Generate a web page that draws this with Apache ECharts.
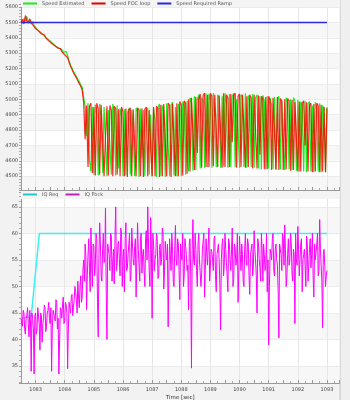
<!DOCTYPE html>
<html><head><meta charset="utf-8">
<script src="https://cdn.jsdelivr.net/npm/echarts@6/dist/echarts.min.js"></script>
<style>html,body{margin:0;padding:0;background:#efefef;}#c{width:350px;height:400px;}</style>
</head><body><div id="c"></div>
<script>
// sample grid (uniform logging): t = timeStart + i*timeStep
const timeStart = 1082.5;
const timeStep = 0.05;

const speedEstimated = [5510,5495,5525,5505,5540,5500,5515,5490,5505,5480,
5470,5455,5462,5440,5432,5425,5410,5418,5395,5388,5380,5372,5360,5366,5345,5340,5332,5320,5325,5305,5300,5312,
5282,5250,5222,5205,5180,5168,5150,5130,5115,5095,5080,5010,
4960,4760,4975,4600,4530,4950,4510,4965,4900,4505,4970,4880,4520,4950,4960,4500,4930,4700,4510,4970,4920,4505,4960,4550,4940,4890,
4500,4935,4505,4910,4940,4510,4930,4800,4500,4945,4920,4495,4940,4620,4930,4500,4925,4945,4510,4900,4500,4940,4860,4495,4950,
4970,4500,4960,4920,4495,4975,4700,4500,4965,4980,4505,4950,4500,4970,4930,4500,4985,4960,4510,4990,4530,5010,4980,4535,5020,
4540,5000,5030,4550,5010,4990,4555,5040,4560,5035,5000,4555,5040,4900,4560,5030,5010,4555,5020,4565,5040,4980,4555,5035,4560,
5020,5040,4560,5000,4800,4555,5030,5015,4560,5040,4555,5025,4990,4560,5035,4555,5010,5030,4550,5020,4545,5025,4990,4545,5020,
4550,5010,4960,4545,5015,4540,5000,5020,4545,4990,4700,4540,5010,4980,4545,5000,4540,5010,4990,4535,4995,4530,4985,4960,4530,
4990,4525,4970,4985,4530,4960,4525,4980,4950,4530,4975,4525,4960,4940,4530,4950];

const speedFocLoop = [5500,5520,5490,5545,5510,5495,5525,5500,5485,5495,
5460,5465,5445,5450,5425,5418,5420,5400,5402,5380,5385,5365,5370,5350,5352,5335,5325,5330,5310,5312,5290,5295,
5270,5260,5215,5210,5172,5160,5140,5120,5110,5085,5060,4980,
4740,4960,4560,4955,4975,4520,4950,4505,4975,4940,4510,4965,4960,4500,4760,4955,4505,4960,4930,4500,4955,4940,4510,4935,4500,4950,
4920,4500,4940,4495,4930,4945,4500,4935,4925,4500,4945,4930,4500,4940,4495,4935,4950,4500,4930,4680,4500,4950,4500,4955,4940,
4495,4965,4500,4970,4960,4500,4975,4960,4495,4970,4980,4500,4975,4500,4985,4965,4505,4990,4975,4515,5000,4530,5010,5020,4540,
5015,4650,5000,5035,4555,5025,5040,4560,5030,4560,5040,5020,4565,5030,5040,4560,5025,5035,4555,5040,4560,5030,5010,4560,5035,
4720,5025,5040,4555,5020,5035,4560,5030,5040,4555,5020,4560,5030,5010,4550,5030,5020,4550,5025,4640,5020,5000,4545,5015,4545,
5020,4990,4540,5010,5000,4545,5015,4540,5005,4990,4540,5000,4545,5005,4990,4535,4995,4540,4980,4990,4530,4985,4530,4975,4990,
4700,4980,4530,4960,4975,4525,4970,4530,4975,4960,4525,4965,4530,4950,4525,4940];

const rampTime = [1082.5, 1093.0];
const speedRequiredRamp = [5500, 5500];

const iqReqTime = [1082.5, 1082.85, 1083.13, 1093.0];
const iqReq = [44, 44.3, 60, 60];

// IQ feedback, samples on the 0.05 s grid
const iqFbck = [44,42.5,45,41,44.5,43,45.5,34,44,33.5,45,42,46,38,44.5,43,46.5,41.5,45,47,
43,34,45.5,44,47.5,42,33.5,46,44,48,43.5,46.5,34.5,47,45,48.5,46,50,47.5,51,
46,52,48,55,58,45.6,56,53,61,50,57.5,54,59,40.5,62,52,57,54.5,64.8,40,
58,53,59.5,55,50.5,65,54,58.5,52,60,55.5,49,62,53.5,58,51,61,55,57.5,48,
62,54,59,52.5,57,50,60.5,65,53,63,44,58,55,60,51.5,57,54,61,49.5,58.5,
55,42.4,59,53,57.5,50,61.5,54,58,47.5,56,60,52,57.5,53,45.6,59,34.6,62.6,54,
57,50,60,55,52.5,58.5,48,59,54,61,51,56.5,53,59.5,49,57,55,41.8,58,52,
60,54.5,49,58,53,61,51.5,57,55,47,59.5,53,56,50,60,54,58,48.5,57,52,
60.5,55,45,58,53.5,60,51,56,54,49,39,57,55,60,52,58,54,40.3,57,53,
59,61.6,50,56,54,60,52.5,57,43,55,61.3,52,58,49,56,54,59.5,51,57,53.5,
60,48,55,58,52,62.6,54,42.2,57,50,53];
// IQ feedback, samples half-way between the grid points above
const iqFbckMid = [43,45.5,42,44,46,40.5,43.5,45,42,44.5,41,46,43,45,39.5,44,46,42.5,45.5,44,
46,42,45,43.5,47,44,40,45.5,46.5,43,47,45,42,46,48,44.5,47.5,49,45,48,
50,47,53,51,56,52,59,49,55,58,52,60,47,56,58,51,60,55,49,58,
56,60,51,57,59,53,58,55,61,50,57,59,53,56,60,52,58,54,59,55,
57,51,60,56,53,59,55,58,50,57,60,53,56,59,52,58,55,60,53,56,
58,52,56,60,51,57,55,59,53,58,55,50,59,56,54,58,52,57,55,60,
53,58,55,50,57,60,53,56,58,51,57,55,59,52,56,58,50,55,59,54,
57,52,59,55,57,50,58,54,60,53,56,58,51,57,55,59,52,56,58,54,
57,52,59,55,51,57,58,53,60,55,50,56,59,53,57,55,49,58,56,60,
54,57,52,59,55,58,51,56,60,54,57,52,59,55,57,50,58,54,59,56,
52,58,55,60,53,57,51,56,54,52];

const xMin = 1082.5, xMax = 1093.43, xStep = 0.5;
const topYMin = 4410, topYMax = 5620;
const botYMin = 31.8, botYMax = 67.8;

function pairs(vals){ return vals.map((v,i)=>[+(timeStart + i*timeStep).toFixed(3), v]); }
function interleave(a, b){
  const out = [];
  a.forEach((v,i)=>{
    out.push([+(timeStart + i*timeStep).toFixed(3), v]);
    if (i < b.length) out.push([+(timeStart + (i+0.5)*timeStep).toFixed(4), b[i]]);
  });
  return out;
}
function zip(ts, vs){ return ts.map((t,i)=>[t, vs[i]]); }

const FONT = 'DejaVu Sans';
const txt = {color:'#444', fontSize:5, fontFamily:FONT};
function isMult(v, s){ return Math.abs(v/s - Math.round(v/s)) < 1e-6; }

function xAxis(gi, labels){
  return {type:'value', gridIndex:gi, min:xMin, max:xMax, interval:xStep,
    name: labels ? 'Time [sec]' : '', nameLocation:'middle', nameGap:12,
    nameTextStyle:{color:'#333', fontSize:5.5, fontFamily:FONT},
    axisLine:{show:true, lineStyle:{color:'#999', width:1}},
    axisTick:{show:true, inside:true, length:3, lineStyle:{color:'#999'}},
    minorTick:{show:true, splitNumber:2, length:2, lineStyle:{color:'#aaa'}},
    axisLabel:{show:labels, margin:4, showMinLabel:false, showMaxLabel:false, ...txt,
      formatter:v=>isMult(v,1)?String(Math.round(v)):''},
    splitLine:{show:true, lineStyle:{color:['rgba(0,0,0,0)','#e6e6e6'], width:1}}};
}
function yAxis(gi, min, max, step, name, split, gap){
  return {type:'value', gridIndex:gi, min:min, max:max, splitNumber:split,
    name:name, nameLocation:'middle', nameGap:gap, nameRotate:90,
    nameTextStyle:{color:'#333', fontSize:5.5, fontFamily:FONT},
    axisLine:{show:true, lineStyle:{color:'#999', width:1}},
    axisTick:{show:true, length:2, lineStyle:{color:'#999'}},
    minorTick:{show:true, splitNumber:5, length:2, lineStyle:{color:'#aaa'}},
    axisLabel:{margin:3, showMinLabel:false, showMaxLabel:false, ...txt,
      formatter:v=>isMult(v,step)?String(Math.round(v)):''},
    splitLine:{show:true, lineStyle:{color:'#ececec', width:1}},
    splitArea:{show:true, areaStyle:{color:['#f7f7f7','#ffffff']}}};
}

const chart = echarts.init(document.getElementById('c'), null, {renderer:'canvas'});
chart.setOption({
  animation:false,
  backgroundColor:'#efefef',
  graphic:[
    {type:'rect', shape:{x:0,y:0,width:340,height:400}, style:{fill:'#f2f2f2'}, z:-10, silent:true},
    {type:'line', shape:{x1:340,y1:0,x2:340,y2:400}, style:{stroke:'#c4c4c4', lineWidth:1}, z:-9, silent:true},
    {type:'rect', shape:{x:21,y:0,width:319,height:7}, style:{fill:'#f4f4f4'}, z:3, silent:true},
    {type:'rect', shape:{x:21,y:191,width:319,height:8}, style:{fill:'#f4f4f4'}, z:3, silent:true}
  ],
  grid:[
    {left:21, top:4, width:318.5, height:186, show:true, backgroundColor:'#fff', borderWidth:0,
     containLabel:false, outerBoundsMode:'none'},
    {left:21, top:192, width:318.5, height:191, show:true, backgroundColor:'#fff', borderWidth:0,
     containLabel:false, outerBoundsMode:'none'}
  ],
  legend:[
    {top:0, left:22, orient:'horizontal', itemWidth:14, itemHeight:2, itemGap:7, padding:1, icon:'rect',
     textStyle:{color:'#555', fontSize:5, fontFamily:FONT},
     data:['Speed Estimated','Speed FOC loop','Speed Required Ramp']},
    {top:191, left:22, orient:'horizontal', itemWidth:14, itemHeight:2, itemGap:7, padding:1, icon:'rect',
     textStyle:{color:'#555', fontSize:5, fontFamily:FONT},
     data:['IQ Req','IQ Fbck']}
  ],
  xAxis:[xAxis(0,false), xAxis(1,true)],
  yAxis:[yAxis(0, topYMin, topYMax, 100, '[rpm]', 12, 16), yAxis(1, botYMin, botYMax, 5, '[A]', 7, 12)],
  series:[
    {name:'Speed Estimated', type:'line', xAxisIndex:0, yAxisIndex:0, showSymbol:false, symbol:'none',
     data:pairs(speedEstimated), lineStyle:{color:'#18f018', width:1.2}, itemStyle:{color:'#18f018'}},
    {name:'Speed FOC loop', type:'line', xAxisIndex:0, yAxisIndex:0, showSymbol:false, symbol:'none',
     data:pairs(speedFocLoop), lineStyle:{color:'#ff0000', width:1.2, opacity:0.85}, itemStyle:{color:'#e00000'}},
    {name:'Speed Required Ramp', type:'line', xAxisIndex:0, yAxisIndex:0, showSymbol:false, symbol:'none',
     data:zip(rampTime, speedRequiredRamp), lineStyle:{color:'#2a2ad8', width:1.5}, itemStyle:{color:'#2a2ad8'}},
    {name:'IQ Req', type:'line', xAxisIndex:1, yAxisIndex:1, showSymbol:false, symbol:'none',
     data:zip(iqReqTime, iqReq), lineStyle:{color:'#3cf0f0', width:1.5}, itemStyle:{color:'#20c8c8'}},
    {name:'IQ Fbck', type:'line', xAxisIndex:1, yAxisIndex:1, showSymbol:false, symbol:'none',
     data:interleave(iqFbck, iqFbckMid), lineStyle:{color:'#ff00ff', width:1}, itemStyle:{color:'#c020c0'}}
  ]
});
</script></body></html>
